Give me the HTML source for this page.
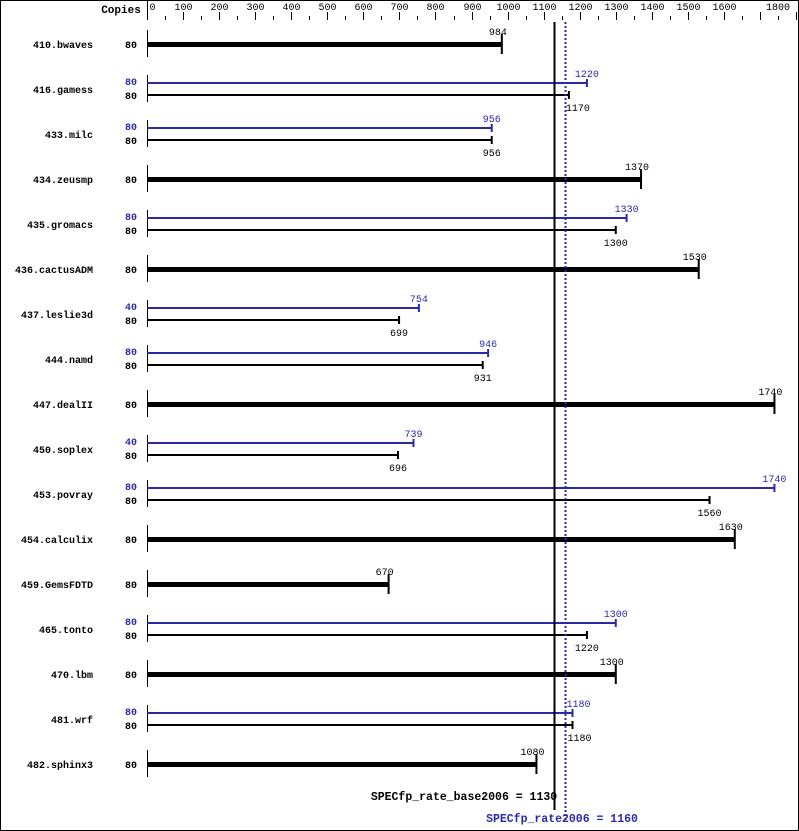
<!DOCTYPE html>
<html><head><meta charset="utf-8"><style>
body{margin:0;background:#fff}
svg{display:block;font-family:"Liberation Mono","DejaVu Sans Mono",monospace;font-size:10px}
.n{font-weight:bold;text-anchor:end}
.c{font-weight:bold;text-anchor:middle}
.v{text-anchor:middle}
.b{fill:#2a2aa8}
</style></head><body>
<svg width="799" height="831" viewBox="0 0 799 831">
<rect x="0.5" y="0.5" width="798" height="830" fill="#fff" stroke="#000"/>
<text x="121" y="13" class="c" style="font-size:11px">Copies</text>
<g id="ax"></g>
<g id="main"></g>
<line x1="554.5" y1="22" x2="554.5" y2="810" stroke="#000" stroke-width="2"/>
<line x1="565.5" y1="22" x2="565.5" y2="822" stroke="#2a2aa8" stroke-width="2" stroke-dasharray="2,2"/>
<text x="464" y="800" style="font-weight:bold;text-anchor:middle;font-size:11.5px">SPECfp_rate_base2006 = 1130</text>
<text x="562" y="822" class="b" style="font-weight:bold;text-anchor:middle;font-size:11.5px">SPECfp_rate2006 = 1160</text>
</svg>
<script>
var s=0.3606,X0=147,NS="http://www.w3.org/2000/svg";
function el(t,a,p,txt){var e=document.createElementNS(NS,t);for(var k in a)e.setAttribute(k,a[k]);if(txt!=null)e.textContent=txt;(p||document.getElementById('main')).appendChild(e);return e;}
var ax=document.getElementById('ax');
for(var v=0;v<=1800;v+=50){var x=Math.round(X0+v*s)+0.5;
 if(v%100==0){el('line',{x1:x,y1:v==0?0:12,x2:x,y2:20,stroke:'#000'},ax);
  if(v==1800)el('text',{x:778,y:10,'text-anchor':'middle'},ax,"1800");
  else if(v!=1700)el('text',{x:v==0?x+2:x,y:10,'text-anchor':v==0?'start':'middle'},ax,String(v));}
 else el('line',{x1:x,y1:16,x2:x,y2:20,stroke:'#000'},ax);}
var d=[["410.bwaves",null,null,80,984],["416.gamess",80,1220,80,1170],["433.milc",80,956,80,956],["434.zeusmp",null,null,80,1370],["435.gromacs",80,1330,80,1300],["436.cactusADM",null,null,80,1530],["437.leslie3d",40,754,80,699],["444.namd",80,946,80,931],["447.dealII",null,null,80,1740],["450.soplex",40,739,80,696],["453.povray",80,1740,80,1560],["454.calculix",null,null,80,1630],["459.GemsFDTD",null,null,80,670],["465.tonto",80,1300,80,1220],["470.lbm",null,null,80,1300],["481.wrf",80,1180,80,1180],["482.sphinx3",null,null,80,1080]];
var shiftB={"416.gamess":9,"481.wrf":7},shiftP={"481.wrf":6};
d.forEach(function(r,i){var y=44+i*45;
 el('text',{x:93,y:y+4,'class':'n'},null,r[0]);
 el('line',{x1:147.5,y1:y-14,x2:147.5,y2:y+13,stroke:'#000'});
 if(r[1]==null){var xe=X0+r[4]*s;
  el('text',{x:131,y:y+4,'class':'c'},null,r[3]);
  el('rect',{x:147,y:y-2,width:xe-147,height:5,fill:'#000'});
  el('line',{x1:xe,y1:y-10,x2:xe,y2:y+10,stroke:'#000','stroke-width':2});
  el('text',{x:xe-4,y:y-9,'class':'v'},null,r[4]);
 }else{var yb=y-6,yk=y+6,xb=X0+r[2]*s,xk=X0+r[4]*s;
  el('text',{x:131,y:yb+2,'class':'c b'},null,r[1]);
  el('text',{x:131,y:yk+4,'class':'c'},null,r[3]);
  el('rect',{x:147,y:yb-1,width:xb-147,height:2,fill:'#2a2aa8'});
  el('line',{x1:xb,y1:yb-4,x2:xb,y2:yb+4,stroke:'#2a2aa8','stroke-width':2});
  el('text',{x:xb+(shiftP[r[0]]||0),y:yb-6,'class':'v b'},null,r[2]);
  el('rect',{x:147,y:yk-1,width:xk-147,height:2,fill:'#000'});
  el('line',{x1:xk,y1:yk-4,x2:xk,y2:yk+4,stroke:'#000','stroke-width':2});
  el('text',{x:xk+(shiftB[r[0]]||0),y:yk+16,'class':'v'},null,r[4]);
 }});
</script>
</body></html>
